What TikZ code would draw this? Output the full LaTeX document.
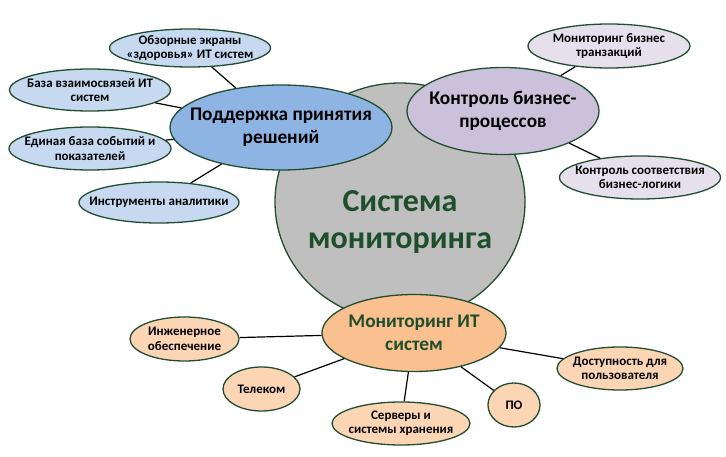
\documentclass[tikz,border=0pt]{standalone}
\usepackage{fontspec}
\setmainfont{Carlito}
\usetikzlibrary{shapes.geometric}
\definecolor{outl}{RGB}{34,78,48}
\definecolor{txtg}{RGB}{30,78,44}
\definecolor{bluel}{RGB}{198,217,241}
\definecolor{bluem}{RGB}{142,180,227}
\definecolor{purpl}{RGB}{229,224,236}
\definecolor{purpm}{RGB}{204,193,218}
\definecolor{grayc}{RGB}{191,191,191}
\definecolor{orgl}{RGB}{252,213,181}
\definecolor{orgm}{RGB}{250,192,144}
\begin{document}
\begin{tikzpicture}[x=1pt,y=-1pt,
  bub/.style={ellipse, draw=outl, line width=1.3pt, inner sep=-60pt, align=center},
  small/.style={bub, font=\bfseries\fontsize{13}{14.5}\selectfont},
  mid/.style={bub, font=\bfseries\fontsize{19.3}{22.5}\selectfont},
  conn/.style={draw=black, line width=1.2pt}
]
\useasboundingbox (0,0) rectangle (726,457);
% central
\node[bub, fill=grayc, minimum width=250pt, minimum height=238pt] (sys) at (400,202) {};
\node[text=txtg, align=center, font=\bfseries\fontsize{32}{37}\selectfont] (systxt) at (400,222) {Система\\мониторинга};
% main branches
\node[mid, fill=bluem, minimum width=222pt, minimum height=85pt] (dec) at (281,127.5) {Поддержка принятия\\решений};
\node[mid, fill=purpm, minimum width=192pt, minimum height=87pt] (bp) at (503,111) {Контроль бизнес-\\процессов};
\node[mid, fill=orgm, minimum width=184pt, minimum height=77pt, text=txtg] (it) at (414,333) {Мониторинг ИТ\\систем};
% decision support leaves
\node[small, fill=bluel, minimum width=161pt, minimum height=38pt] (d1) at (190,48) {Обзорные экраны\\«здоровья» ИТ систем};
\node[small, fill=bluel, minimum width=161pt, minimum height=42pt] (d2) at (90,90) {База взаимосвязей ИТ\\систем};
\node[small, fill=bluel, minimum width=162pt, minimum height=43pt] (d3) at (90,148.5) {Единая база событий и\\показателей};
\node[small, fill=bluel, minimum width=160pt, minimum height=41pt] (d4) at (159,202.5) {Инструменты аналитики};
% business process leaves
\node[small, fill=purpl, minimum width=162pt, minimum height=44pt] (b1) at (609,46) {Мониторинг бизнес\\транзакций};
\node[small, fill=purpl, minimum width=161pt, minimum height=43pt] (b2) at (640,177.5) {Контроль соответствия\\бизнес-логики};
% IT leaves
\node[small, fill=orgl, minimum width=109pt, minimum height=44pt] (i1) at (184.5,339) {Инженерное\\обеспечение};
\node[small, fill=orgl, minimum width=77pt, minimum height=44pt] (i2) at (261.5,389) {Телеком};
\node[small, fill=orgl, minimum width=138pt, minimum height=43pt] (i3) at (401,423.5) {Серверы и\\системы хранения};
\node[small, fill=orgl, minimum width=52pt, minimum height=44pt] (i4) at (514,405) {ПО};
\node[small, fill=orgl, minimum width=126pt, minimum height=43pt] (i5) at (620,368.5) {Доступность для\\пользователя};
% connectors
\draw[conn] (d1) -- (dec);
\draw[conn] (d2) -- (dec);
\draw[conn] (d3) -- (dec);
\draw[conn] (d4) -- (dec);
\draw[conn] (b1) -- (bp);
\draw[conn] (b2) -- (bp);
\draw[conn] (i1) -- (it);
\draw[conn] (i2) -- (it);
\draw[conn] (i3) -- (it);
\draw[conn] (i4) -- (it);
\draw[conn] (i5) -- (it);
\end{tikzpicture}
\end{document}
